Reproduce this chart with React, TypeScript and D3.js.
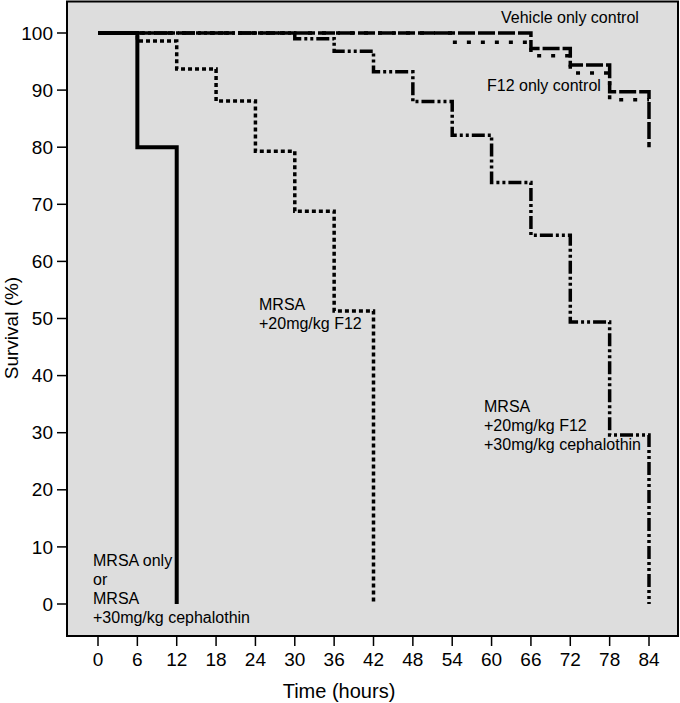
import React from "react";
import * as d3 from "d3";

// ---- data ----
const xTicks = [0, 6, 12, 18, 24, 30, 36, 42, 48, 54, 60, 66, 72, 78, 84];
const yTicks = [0, 10, 20, 30, 40, 50, 60, 70, 80, 90, 100];

// Kaplan-Meier step points: [time, survival]
const mrsaOnly: [number, number][] = [[0, 100], [6, 80], [12, 0]];
const mrsaF12: [number, number][] = [[0, 100], [6, 98.6], [12, 93.7], [18, 88.1], [24, 79.3], [30, 68.8], [36, 51.3], [42, 0]];
const mrsaF12Ceph: [number, number][] = [[0, 100], [30, 99], [36, 96.8], [42, 93.2], [48, 88], [54, 82.1], [60, 73.8], [66, 64.6], [72, 49.4], [78, 29.6], [84, 0]];
const vehicleOnly: [number, number][] = [[0, 100], [66, 97.3], [72, 94.4], [78, 89.7], [84, 80]];
const f12Only: [number, number][] = [[0, 100], [54, 98.4], [66, 96], [72, 93], [78, 88.3], [84, 88.3]];

const W = 680, H = 703;
const frame = { left: 67, right: 678, top: 1.5, bottom: 636 };

export default function App() {
  const x = d3.scaleLinear().domain([0, 84]).range([98, 649]);
  const y = d3.scaleLinear().domain([0, 100]).range([604, 33]);
  const line = d3.line<[number, number]>().x(d => x(d[0])).y(d => y(d[1])).curve(d3.curveStepAfter);

  const series = [
    { data: f12Only, dash: "4,10", w: 3.5 },
    { data: vehicleOnly, dash: "17,3", w: 3.5 },
    { data: mrsaF12Ceph, dash: "13,3,3,3,3,3", w: 3.5 },
    { data: mrsaF12, dash: "4,3", w: 3.5 },
    { data: mrsaOnly, dash: null, w: 4 },
  ];

  const font = "'Liberation Sans', Arial, sans-serif";

  return (
    <svg width={W} height={H} style={{ position: "absolute", left: 0, top: 0, background: "#fff" }} fontFamily={font}>
      <rect x={frame.left} y={frame.top} width={frame.right - frame.left} height={frame.bottom - frame.top}
        fill="#dddddd" stroke="#000" strokeWidth={2} />
      {yTicks.map(t => (
        <g key={"y" + t}>
          <line x1={57} x2={frame.left} y1={y(t)} y2={y(t)} stroke="#000" strokeWidth={1.5} />
          <text x={53} y={y(t)} dy="0.35em" textAnchor="end" fontSize={19}>{t}</text>
        </g>
      ))}
      {xTicks.map(t => (
        <g key={"x" + t}>
          <line x1={x(t)} x2={x(t)} y1={frame.bottom} y2={646} stroke="#000" strokeWidth={1.5} />
          <text x={x(t)} y={666} textAnchor="middle" fontSize={19}>{t}</text>
        </g>
      ))}
      <text x={339} y={698} textAnchor="middle" fontSize={20}>Time (hours)</text>
      <text transform="translate(18,328) rotate(-90)" textAnchor="middle" fontSize={19}>Survival (%)</text>

      {series.map((s, i) => (
        <path key={i} d={line(s.data) || ""} fill="none" stroke="#000" strokeWidth={s.w}
          strokeDasharray={s.dash || undefined} strokeLinejoin="miter" />
      ))}

      <g fontSize={16}>
        <text x={501} y={23}>Vehicle only control</text>
        <text x={487} y={91}>F12 only control</text>
        <text x={259} y={310}>MRSA</text>
        <text x={259} y={329}>+20mg/kg F12</text>
        <text x={484} y={412}>MRSA</text>
        <text x={484} y={431}>+20mg/kg F12</text>
        <text x={484} y={450}>+30mg/kg cephalothin</text>
        <text x={93} y={566}>MRSA only</text>
        <text x={93} y={585}>or</text>
        <text x={93} y={604}>MRSA</text>
        <text x={93} y={623}>+30mg/kg cephalothin</text>
      </g>
    </svg>
  );
}
